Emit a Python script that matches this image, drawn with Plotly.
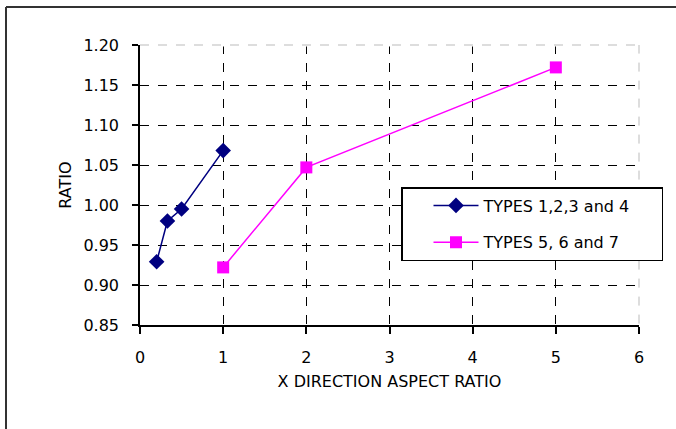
import plotly.graph_objects as go

x_a = [0.2, 0.33, 0.5, 1.0]
y_a = [0.929, 0.980, 0.995, 1.068]
x_b = [1.0, 2.0, 5.0]
y_b = [0.922, 1.047, 1.172]
name_a = "TYPES 1,2,3 and 4"
name_b = "TYPES 5, 6 and 7"

W, H = 676, 429
L, R, T, B = 140, 639, 45, 325
pw, ph = R - L, B - T

def px(x):
    return (x - L) / pw

def py(y):
    return (B - y) / ph

FS = 16
fam = "DejaVu Sans"
pad = "\u00a0" * 5

fig = go.Figure()
fig.add_trace(go.Scatter(x=x_a, y=y_a, name=name_a + pad, mode="lines+markers", legendgroup="a",
                         line=dict(color="#000080", width=1.5),
                         marker=dict(symbol="diamond", size=12, color="#000080")))
fig.add_trace(go.Scatter(x=x_b, y=y_b, name=name_b + pad, mode="lines+markers", legendgroup="b",
                         line=dict(color="#FF00FF", width=1.5),
                         marker=dict(symbol="square", size=12, color="#FF00FF")))

font = dict(family=fam, size=FS, color="black")

fig.update_layout(
    width=W, height=H,
    margin=dict(l=L, r=W - R, t=T, b=H - B),
    paper_bgcolor="white", plot_bgcolor="white",
    font=font,
    showlegend=True,
    legend=dict(x=px(401), y=py(187), xanchor="left", yanchor="top",
                bordercolor="black", borderwidth=1.5, bgcolor="white",
                font=dict(family=fam, size=FS, color="black"),
                tracegroupgap=13, itemwidth=45, indentation=26),
    xaxis=dict(range=[0, 6], tickvals=[0, 1, 2, 3, 4, 5, 6],
               showline=True, linecolor="black", linewidth=1.5,
               ticks="outside", ticklen=7, tickcolor="black", tickwidth=1.5,
               ticklabelstandoff=10,
               showgrid=True, gridcolor="black", griddash="dash", gridwidth=1.2,
               zeroline=False,
               title=dict(text="X DIRECTION ASPECT RATIO", standoff=10,
                          font=dict(family=fam, size=FS, color="black"))),
    yaxis=dict(range=[0.85, 1.20], tickvals=[0.85, 0.90, 0.95, 1.00, 1.05, 1.10, 1.15, 1.20],
               tickformat=".2f",
               showline=True, linecolor="black", linewidth=1.5,
               ticks="outside", ticklen=6, tickcolor="black", tickwidth=1.5,
               ticklabelstandoff=10,
               showgrid=True, gridcolor="black", griddash="dash", gridwidth=1.2,
               zeroline=False,
               title=dict(text="RATIO", standoff=8,
                          font=dict(family=fam, size=FS, color="black"))),
    shapes=[
        dict(type="line", xref="paper", yref="paper", x0=0, x1=1, y0=1, y1=1,
             line=dict(color="white", width=3), layer="above"),
        dict(type="line", xref="paper", yref="paper", x0=1, x1=1, y0=0.005, y1=1,
             line=dict(color="white", width=3), layer="above"),
        dict(type="line", xref="paper", yref="paper", x0=0, x1=1, y0=1, y1=1,
             line=dict(color="#BBBBBB", width=1, dash="dash"), layer="above"),
        dict(type="line", xref="paper", yref="paper", x0=1, x1=1, y0=0.005, y1=1,
             line=dict(color="#BBBBBB", width=1, dash="dash"), layer="above"),
        dict(type="line", xref="paper", yref="paper", x0=px(6), x1=px(700), y0=py(7), y1=py(7),
             line=dict(color="#333333", width=2), layer="above"),
        dict(type="line", xref="paper", yref="paper", x0=px(6), x1=px(6), y0=py(7), y1=py(450),
             line=dict(color="#333333", width=2), layer="above"),
    ],
)

fig.write_html("out.html", config={"displayModeBar": False},
               post_script="document.body.style.margin='0px';document.body.style.overflow='hidden';")
